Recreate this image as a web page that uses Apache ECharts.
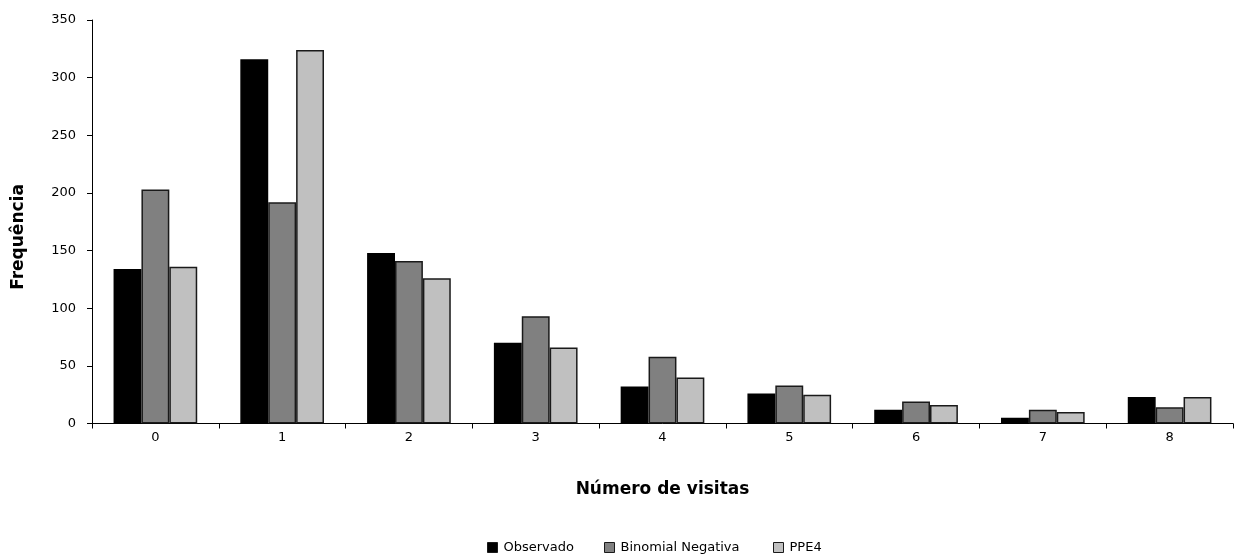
<!DOCTYPE html>
<html>
<head>
<meta charset="utf-8">
<script src="https://cdn.jsdelivr.net/npm/echarts@6/dist/echarts.min.js"></script>
<style>
  html, body { margin: 0; padding: 0; background: #ffffff; }
  #chart { width: 1242px; height: 560px; }
</style>
</head>
<body>
<div id="chart"></div>
<script>
// Number of visits (categories)
const visitas = ['0', '1', '2', '3', '4', '5', '6', '7', '8'];

// Frequencies per number of visits
const observado = [134, 316, 148, 70, 32, 26, 12, 5, 23];
const binomialNegativa = [203, 192, 141, 93, 58, 33, 19, 12, 14];
const ppe4 = [136, 324, 126, 66, 40, 25, 16, 10, 23];

const seriesNames = ['Observado', 'Binomial Negativa', 'PPE4'];

const fontFamily = '"DejaVu Sans", Verdana, sans-serif';

const chart = echarts.init(document.getElementById('chart'), null, { renderer: 'canvas' });

function barSeries(name, data, color, border) {
  return {
    name: name,
    type: 'bar',
    data: data,
    barGap: '0%',
    barCategoryGap: '34%',
    itemStyle: { color: color, borderColor: border, borderWidth: 1.5 },
    emphasis: { disabled: true }
  };
}

// one legend block per entry so each sits at its own horizontal slot
const legendLefts = [487, 604, 773];
const legends = seriesNames.map(function (n, i) {
  return {
    data: [n],
    left: legendLefts[i],
    top: 541,
    itemWidth: 10,
    itemHeight: 10,
    icon: 'rect',
    itemStyle: { borderColor: '#1a1a1a', borderWidth: 1 },
    textStyle: { fontSize: 13, color: '#000', fontFamily: fontFamily, padding: [0, 0, 0, 1] },
    padding: 0
  };
});

chart.setOption({
  animation: false,
  backgroundColor: '#ffffff',
  textStyle: { fontFamily: fontFamily, color: '#000' },
  grid: { left: 92, right: 9, top: 20, bottom: 136.5, containLabel: false },
  legend: legends,
  graphic: [{
    type: 'text',
    x: 19,
    y: 237,
    rotation: Math.PI / 2,
    style: {
      text: 'Frequência',
      fontFamily: fontFamily,
      fontSize: 17,
      fontWeight: 'bold',
      fill: '#000',
      align: 'center',
      verticalAlign: 'middle'
    }
  }],
  xAxis: {
    type: 'category',
    data: visitas,
    name: 'Número de visitas',
    nameLocation: 'middle',
    nameGap: 58,
    nameTextStyle: { fontSize: 17, fontWeight: 'bold', color: '#000', fontFamily: fontFamily },
    axisLine: { lineStyle: { color: '#000', width: 1 } },
    axisTick: { show: true, length: 5, lineStyle: { color: '#000' } },
    axisLabel: { fontSize: 13, color: '#000', margin: 8 },
    splitLine: { show: false }
  },
  yAxis: {
    type: 'value',
    min: 0,
    max: 350,
    interval: 50,
    axisLine: { show: true, lineStyle: { color: '#000', width: 1 } },
    axisTick: { show: true, length: 5, lineStyle: { color: '#000' } },
    axisLabel: { fontSize: 13, color: '#000', margin: 16 },
    splitLine: { show: false }
  },
  series: [
    barSeries(seriesNames[0], observado, '#000000', '#000000'),
    barSeries(seriesNames[1], binomialNegativa, '#808080', '#1a1a1a'),
    barSeries(seriesNames[2], ppe4, '#c0c0c0', '#1a1a1a')
  ]
});
</script>
</body>
</html>
